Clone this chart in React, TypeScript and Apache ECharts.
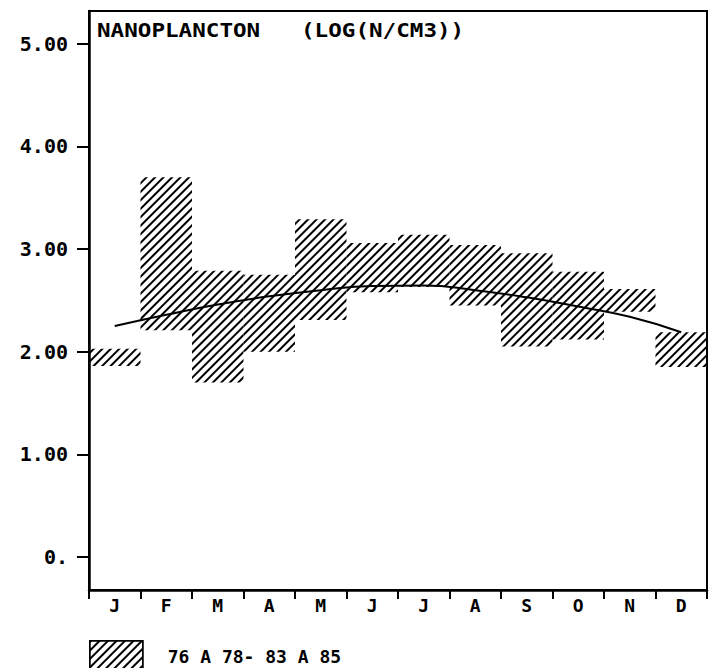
import React, { useEffect, useRef } from "react";
import * as echarts from "echarts";

const months = ["J", "F", "M", "A", "M", "J", "J", "A", "S", "O", "N", "D"];
const rangeLow = [1.86, 2.21, 1.70, 2.0, 2.31, 2.58, 2.63, 2.45, 2.05, 2.12, 2.39, 1.85];
const rangeHigh = [2.03, 3.70, 2.79, 2.75, 3.29, 3.06, 3.14, 3.04, 2.96, 2.78, 2.61, 2.19];
const trend = [2.25, 2.36, 2.46, 2.54, 2.6, 2.64, 2.645, 2.6, 2.53, 2.44, 2.34, 2.19];
const yTickValues = [0, 1, 2, 3, 4, 5];
const titleText = "NANOPLANCTON   (LOG(N/CM3))";
const legendName = "76 A 78- 83 A 85";

const MONO = '"DejaVu Sans Mono", monospace';

export default function App() {
  const ref = useRef<HTMLDivElement>(null);
  useEffect(() => {
    if (!ref.current) return;
    const chart = echarts.init(ref.current, null, { renderer: "svg" });
    const spans = rangeHigh.map((h, i) => +(h - rangeLow[i]).toFixed(3));
    chart.setOption({
      animation: false,
      backgroundColor: "#fff",
      grid: {
        left: 89,
        right: 7,
        top: 11,
        bottom: 78,
        show: true,
        borderColor: "#000",
        borderWidth: 2,
        backgroundColor: "transparent",
      },
      legend: {
        data: [legendName],
        left: 89,
        top: 640,
        itemWidth: 53,
        itemHeight: 32,
        padding: 0,
        selectedMode: false,
        icon: "rect",
        itemStyle: { borderColor: "#000", borderWidth: 1.5 },
        textStyle: {
          fontFamily: MONO,
          fontWeight: "bold",
          fontSize: 18,
          color: "#000",
          padding: [0, 0, 0, 20],
        },
      },
      xAxis: {
        type: "category",
        data: months,
        boundaryGap: true,
        axisLine: { show: true, onZero: false, lineStyle: { color: "#000", width: 2.5 } },
        axisTick: { show: true, length: 9, lineStyle: { color: "#000", width: 2 } },
        axisLabel: {
          margin: 6,
          fontFamily: MONO,
          fontWeight: "bold",
          fontSize: 18,
          color: "#000",
        },
        splitLine: { show: false },
      },
      yAxis: {
        type: "value",
        min: -0.322,
        max: 5.32,
        axisLine: { show: true, lineStyle: { color: "#000", width: 2.5 } },
        axisTick: {
          show: true,
          length: 12,
          lineStyle: { color: "#000", width: 2 },
          customValues: yTickValues,
        },
        axisLabel: {
          margin: 21,
          customValues: yTickValues,
          fontFamily: MONO,
          fontWeight: "bold",
          fontSize: 20,
          color: "#000",
          formatter: (v: number) => (v === 0 ? "0." : v.toFixed(2)),
        },
        splitLine: { show: false },
      },
      graphic: [
        {
          type: "text",
          x: 97,
          y: 30,
          scaleX: 1.13,
          style: {
            text: titleText,
            fontFamily: MONO,
            fontWeight: "bold",
            fontSize: 20,
            fill: "#000",
            align: "left",
            verticalAlign: "middle",
          },
        },
      ],
      series: [
        {
          name: "base",
          type: "bar",
          stack: "r",
          data: rangeLow,
          barCategoryGap: "0%",
          silent: true,
          itemStyle: { color: "rgba(0,0,0,0)" },
        },
        {
          name: legendName,
          type: "bar",
          stack: "r",
          data: spans,
          barCategoryGap: "0%",
          itemStyle: {
            color: "rgba(255,255,255,0)",
            decal: {
              symbol: "rect",
              symbolSize: 1,
              color: "#000",
              backgroundColor: "rgba(0,0,0,0)",
              dashArrayX: [1, 0],
              dashArrayY: [2, 4],
              rotation: -Math.PI / 4,
            },
          },
        },
        {
          name: "trend",
          type: "line",
          data: trend,
          smooth: true,
          symbol: "none",
          lineStyle: { color: "#000", width: 2 },
          z: 5,
        },
      ],
    });
    return () => chart.dispose();
  }, []);
  return (
    <div
      ref={ref}
      style={{ position: "fixed", left: 0, top: 0, width: 714, height: 668, background: "#fff" }}
    />
  );
}
